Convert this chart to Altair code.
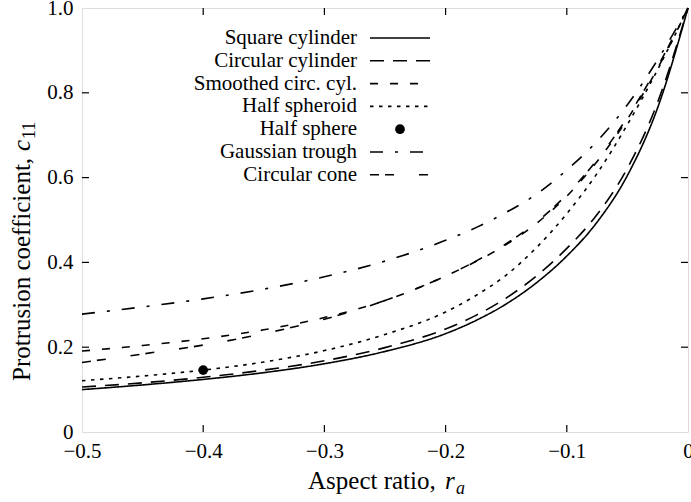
import altair as alt
import pandas as pd

# ---- data ----
x_vals = [-0.5, -0.45, -0.4, -0.35, -0.3, -0.25, -0.2, -0.175, -0.15, -0.125, -0.1, -0.075, -0.05, -0.025, 0.0]

square_cyl    = [0.100, 0.111, 0.124, 0.140, 0.161, 0.190, 0.232, 0.263, 0.302, 0.352, 0.415, 0.495, 0.605, 0.765, 1.0]
circular_cyl  = [0.106, 0.116, 0.129, 0.146, 0.168, 0.199, 0.243, 0.275, 0.316, 0.368, 0.433, 0.513, 0.622, 0.778, 1.0]
smoothed_cyl  = [0.191, 0.204, 0.220, 0.241, 0.270, 0.310, 0.368, 0.402, 0.442, 0.492, 0.556, 0.638, 0.738, 0.858, 1.0]
half_spheroid = [0.121, 0.132, 0.146, 0.165, 0.192, 0.230, 0.283, 0.322, 0.370, 0.435, 0.515, 0.610, 0.725, 0.855, 1.0]
gaussian      = [0.278, 0.295, 0.314, 0.337, 0.366, 0.403, 0.452, 0.482, 0.518, 0.561, 0.618, 0.686, 0.772, 0.878, 1.0]
cone          = [0.164, 0.184, 0.205, 0.232, 0.266, 0.310, 0.368, 0.403, 0.444, 0.495, 0.560, 0.642, 0.742, 0.862, 1.0]

sphere_x = [-0.4]
sphere_y = [0.146]

names = ["Square cylinder", "Circular cylinder", "Smoothed circ. cyl.", "Half spheroid",
         "Half sphere", "Gaussian trough", "Circular cone"]
line_names = ["Square cylinder", "Circular cylinder", "Smoothed circ. cyl.", "Half spheroid",
              "Gaussian trough", "Circular cone"]
series = [square_cyl, circular_cyl, smoothed_cyl, half_spheroid, gaussian, cone]
dashes = [[1, 0], [14, 9], [8, 12], [3.5, 5.5], [13, 12, 3, 12], [9, 6, 9, 25]]

x_ticks = [-0.5, -0.4, -0.3, -0.2, -0.1, 0.0]
y_ticks = [0.0, 0.2, 0.4, 0.6, 0.8, 1.0]

FONT = "Liberation Serif"
W, H = 606, 424

rows = []
for n, s in zip(line_names, series):
    for xv, yv in zip(x_vals, s):
        rows.append({"series": n, "x": xv, "y": yv})
df = pd.DataFrame(rows)

xs = alt.Scale(domain=[-0.5, 0], nice=False, zero=False)
ys = alt.Scale(domain=[0, 1], nice=False)

label_expr = "datum.value == 0 ? '0' : format(datum.value, '.1f')"

lines = alt.Chart(df).mark_line(color="black", strokeWidth=1.6, interpolate="monotone").encode(
    x=alt.X("x:Q", scale=xs,
            axis=alt.Axis(values=x_ticks, labelExpr=label_expr, title=None, ticks=False,
                          domain=False, grid=False, labelFont=FONT, labelFontSize=21,
                          labelColor="black", labelPadding=8, labelFlush=False)),
    y=alt.Y("y:Q", scale=ys,
            axis=alt.Axis(values=y_ticks, labelExpr=label_expr, title=None, ticks=False,
                          domain=False, grid=False, labelFont=FONT, labelFontSize=21,
                          labelColor="black", labelPadding=9, labelFlush=False)),
    detail="series:N",
    strokeDash=alt.StrokeDash("series:N", scale=alt.Scale(domain=line_names, range=dashes), legend=None),
)

sphere = alt.Chart(pd.DataFrame({"x": sphere_x, "y": sphere_y})).mark_point(
    filled=True, color="black", size=95, opacity=1).encode(x=alt.X("x:Q", scale=xs), y=alt.Y("y:Q", scale=ys))

# inward ticks on all four sides
xt = pd.DataFrame({"v": x_ticks[1:-1]})
yt = pd.DataFrame({"v": y_ticks[1:-1]})
tick_bottom = alt.Chart(xt).mark_rule(color="black", strokeWidth=1.2).encode(
    x=alt.X("v:Q", scale=xs), y=alt.value(H), y2=alt.value(H - 7))
tick_top = alt.Chart(xt).mark_rule(color="black", strokeWidth=1.2).encode(
    x=alt.X("v:Q", scale=xs), y=alt.value(0), y2=alt.value(7))
tick_left = alt.Chart(yt).mark_rule(color="black", strokeWidth=1.2).encode(
    y=alt.Y("v:Q", scale=ys), x=alt.value(0), x2=alt.value(7))
tick_right = alt.Chart(yt).mark_rule(color="black", strokeWidth=1.2).encode(
    y=alt.Y("v:Q", scale=ys), x=alt.value(W), x2=alt.value(W - 7))

# manual legend
leg_layers = []
row_y = [30 + 22.8 * i for i in range(len(names))]
dash_of = dict(zip(line_names, dashes))
for i, n in enumerate(names):
    yy = row_y[i]
    leg_layers.append(
        alt.Chart(pd.DataFrame({"t": [n]})).mark_text(
            font=FONT, fontSize=21, align="right", baseline="middle", color="black"
        ).encode(text="t:N", x=alt.value(275), y=alt.value(yy))
    )
    if n == "Half sphere":
        leg_layers.append(
            alt.Chart(pd.DataFrame({"t": [n]})).mark_point(filled=True, color="black", size=95, opacity=1)
            .encode(x=alt.value(318), y=alt.value(yy))
        )
    else:
        leg_layers.append(
            alt.Chart(pd.DataFrame({"t": [n]})).mark_rule(color="black", strokeWidth=1.6,
                                                          strokeDash=dash_of[n])
            .encode(x=alt.value(288), x2=alt.value(348), y=alt.value(yy))
        )

# axis titles with italic symbols and subscripts
def txt(s, x, y, size=25, style="normal", angle=0, align="left"):
    kw = dict(font=FONT, fontSize=size, fontStyle=style, align=align, baseline="alphabetic", color="black")
    if angle:
        kw["angle"] = angle
    return alt.Chart(pd.DataFrame({"t": [s]})).mark_text(**kw).encode(
        text="t:N", x=alt.value(x), y=alt.value(y))

xtitle = [
    txt("Aspect ratio,", 226, 481),
    txt("r", 363, 481, style="italic"),
    txt("a", 374, 486, size=18, style="italic"),
]
ytitle = [
    txt("Protrusion coefficient,", -52, 373, angle=270),
    txt("c", -52, 143, style="italic", angle=270),
    txt("11", -47, 131, size=18, angle=270),
]

chart = alt.layer(lines, sphere, tick_bottom, tick_top, tick_left, tick_right,
                  *leg_layers, *xtitle, *ytitle).properties(
    width=W, height=H,
    padding={"left": 82, "top": 8, "right": 3, "bottom": 70},
    autosize=alt.AutoSizeParams(type="none"),
).configure_view(stroke="black", strokeWidth=1.6).configure(background="white")

chart.save("out.html", embed_options={"renderer": "svg", "actions": False})
